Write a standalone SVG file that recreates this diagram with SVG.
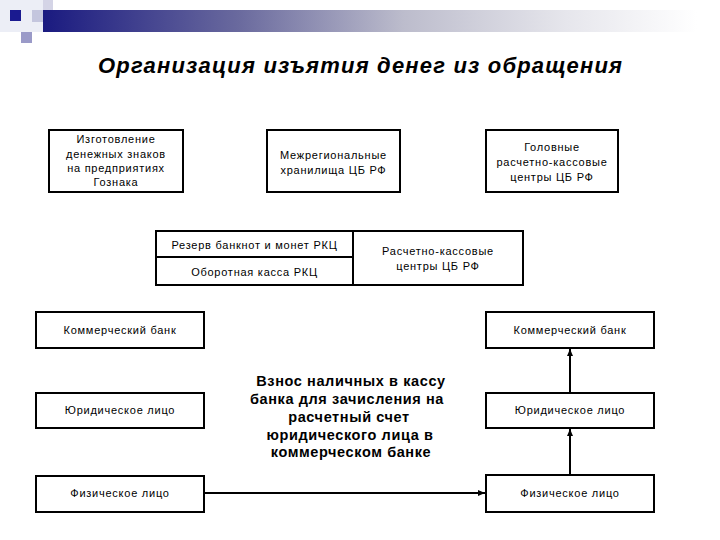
<svg xmlns="http://www.w3.org/2000/svg" width="720" height="540" viewBox="0 0 720 540">
<style>
.box{fill:#fff;stroke:#000;stroke-width:2}
.t{font-family:"Liberation Sans",Arial,sans-serif;font-size:11px;fill:#000;text-anchor:middle;letter-spacing:0.75px}
.c{font-family:"Liberation Sans",Arial,sans-serif;font-size:14.5px;font-weight:bold;fill:#000;text-anchor:middle;letter-spacing:0.6px}
.ln{stroke:#000;stroke-width:2;fill:none}
</style>
<defs>
<linearGradient id="bar" x1="0" y1="0" x2="1" y2="0">
<stop offset="0" stop-color="#1a1a80"/>
<stop offset="0.3" stop-color="#6a6a9e"/>
<stop offset="0.55" stop-color="#bcbccc"/>
<stop offset="0.8" stop-color="#e6e6ec"/>
<stop offset="1" stop-color="#ffffff"/>
</linearGradient>
<marker id="ah" markerWidth="8" markerHeight="8" refX="7" refY="4" orient="auto" markerUnits="userSpaceOnUse">
<path d="M0,1 L7,4 L0,7 Z" fill="#000"/>
</marker>
</defs>
<rect width="720" height="540" fill="#fff"/>
<g id="header">
<rect x="0" y="0" width="43" height="32" fill="#eceef6"/>
<rect x="43" y="0" width="10" height="22" fill="#d4d4e6"/>
<rect x="32" y="10" width="11" height="12" fill="#c4c6de"/>
<rect x="43" y="10" width="654" height="22" fill="url(#bar)"/>
<rect x="10" y="10" width="11" height="11" fill="#1a1a90"/>
<rect x="21" y="32" width="11" height="11" fill="#9a9ac8"/>
</g>
<text id="title" x="360" y="73" font-family="'Liberation Sans',Arial,sans-serif" font-size="22" font-weight="bold" font-style="italic" text-anchor="middle" textLength="524" lengthAdjust="spacing">Организация изъятия денег из обращения</text>

<g id="n-goznak"><rect class="box" x="49" y="130" width="134" height="62"/>
<text class="t" x="116" y="143">Изготовление</text>
<text class="t" x="116" y="158">денежных знаков</text>
<text class="t" x="116" y="172">на предприятиях</text>
<text class="t" x="116" y="186">Гознака</text></g>

<g id="n-mezh"><rect class="box" x="267" y="130" width="133" height="62"/>
<text class="t" x="333.5" y="159">Межрегиональные</text>
<text class="t" x="333.5" y="174">хранилища ЦБ РФ</text></g>

<g id="n-golov"><rect class="box" x="486" y="130" width="132" height="62"/>
<text class="t" x="552" y="151">Головные</text>
<text class="t" x="552" y="166">расчетно-кассовые</text>
<text class="t" x="552" y="181">центры ЦБ РФ</text></g>

<g id="n-rkc">
<rect class="box" x="156" y="231" width="367" height="54"/>
<line class="ln" x1="353" y1="231" x2="353" y2="285"/>
<line class="ln" x1="156" y1="257" x2="353" y2="257"/>
<text class="t" x="254.5" y="249">Резерв банкнот и монет РКЦ</text>
<text class="t" x="254.5" y="276">Оборотная касса РКЦ</text>
<text class="t" x="438" y="255">Расчетно-кассовые</text>
<text class="t" x="438" y="270">центры ЦБ РФ</text></g>

<g id="n-kb-left"><rect class="box" x="36" y="312" width="168" height="36"/>
<text class="t" x="120" y="334">Коммерческий банк</text></g>
<g id="n-ul-left"><rect class="box" x="36" y="393" width="168" height="35"/>
<text class="t" x="120" y="414">Юридическое лицо</text></g>
<g id="n-fl-left"><rect class="box" x="36" y="476" width="168" height="36"/>
<text class="t" x="120" y="497">Физическое лицо</text></g>

<g id="n-kb-right"><rect class="box" x="486" y="312" width="168" height="36"/>
<text class="t" x="570" y="334">Коммерческий банк</text></g>
<g id="n-ul-right"><rect class="box" x="486" y="393" width="168" height="35"/>
<text class="t" x="570" y="414">Юридическое лицо</text></g>
<g id="n-fl-right"><rect class="box" x="486" y="475" width="168" height="37"/>
<text class="t" x="570" y="497">Физическое лицо</text></g>

<g id="label">
<text class="c" x="351" y="386">Взнос наличных в кассу</text>
<text class="c" x="347" y="404">банка для зачисления на</text>
<text class="c" x="349" y="422">расчетный счет</text>
<text class="c" x="350" y="440">юридического лица в</text>
<text class="c" x="351" y="457">коммерческом банке</text>
</g>

<g id="connectors">
<line class="ln" x1="204" y1="493" x2="485" y2="493" marker-end="url(#ah)"/>
<line class="ln" x1="570" y1="475" x2="570" y2="429" marker-end="url(#ah)"/>
<line class="ln" x1="570" y1="393" x2="570" y2="349" marker-end="url(#ah)"/>
</g>
</svg>
